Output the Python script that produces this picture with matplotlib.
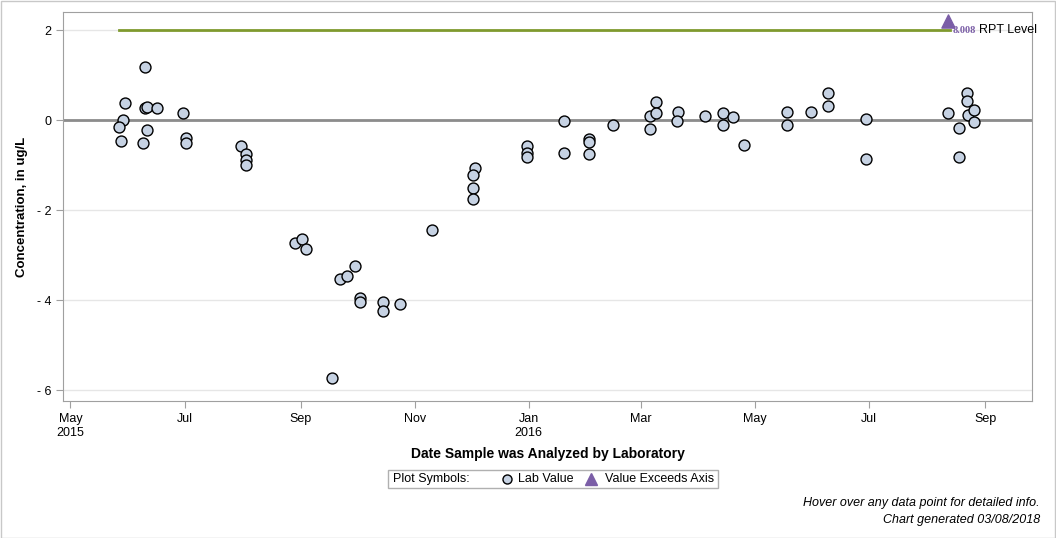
import numpy as np
import pandas as pd
import matplotlib
matplotlib.use('Agg')
import matplotlib.pyplot as plt
from matplotlib.lines import Line2D
from matplotlib.patches import Rectangle

plt.rcParams['font.family'] = ['Liberation Sans', 'DejaVu Sans']

# lab values
dates = ['2015-06-10', '2015-05-30', '2015-06-10', '2015-06-11', '2015-06-16',
         '2015-06-30', '2015-05-29', '2015-05-27', '2015-05-28', '2015-06-11',
         '2015-06-09', '2015-07-02', '2015-07-02', '2015-07-31', '2015-08-03',
         '2015-08-03', '2015-08-03',
         '2015-08-29', '2015-09-02', '2015-09-04', '2015-09-22', '2015-09-26',
         '2015-09-30', '2015-10-03', '2015-10-03', '2015-10-15', '2015-10-15',
         '2015-10-24', '2015-09-18',
         '2015-11-10', '2015-12-03', '2015-12-02', '2015-12-02', '2015-12-02',
         '2015-12-31', '2015-12-31', '2015-12-31', '2016-01-20', '2016-01-20',
         '2016-02-02', '2016-02-02', '2016-02-02', '2016-02-15',
         '2016-03-06', '2016-03-06', '2016-03-09', '2016-03-09', '2016-03-21',
         '2016-03-20', '2016-04-04', '2016-04-14', '2016-04-14', '2016-04-19',
         '2016-04-25',
         '2016-05-18', '2016-05-18', '2016-05-31', '2016-06-09', '2016-06-09',
         '2016-06-29', '2016-06-29',
         '2016-08-12', '2016-08-22', '2016-08-22', '2016-08-23', '2016-08-26',
         '2016-08-26', '2016-08-18', '2016-08-18']
values = [1.17, 0.37, 0.26, 0.28, 0.27,
          0.15, 0.0, -0.15, -0.47, -0.23,
          -0.52, -0.39, -0.50, -0.58, -0.76,
          -0.88, -1.0,
          -2.74, -2.64, -2.87, -3.52, -3.47,
          -3.24, -3.96, -4.05, -4.04, -4.24,
          -4.09, -5.74,
          -2.44, -1.07, -1.23, -1.52, -1.76,
          -0.58, -0.74, -0.81, -0.01, -0.74,
          -0.42, -0.48, -0.76, -0.12,
          0.09, -0.19, 0.39, 0.15, 0.17,
          -0.01, 0.09, 0.16, -0.11, 0.07,
          -0.56,
          0.17, -0.11, 0.17, 0.59, 0.31,
          0.02, -0.87,
          0.15, 0.59, 0.43, 0.11, 0.22,
          -0.05, -0.17, -0.82]

# value above the axis
exceed_date = '2016-08-12'
exceed_plot_y = 2.2
exceed_label = '8.008'

rpt_level = 2.0
rpt_start = '2015-05-27'
rpt_end = '2016-08-13'

tick_dates = ['2015-05-01', '2015-07-01', '2015-09-01', '2015-11-01', '2016-01-01',
              '2016-03-01', '2016-05-01', '2016-07-01', '2016-09-01']
tick_labels = ['May\n2015', 'Jul', 'Sep', 'Nov', 'Jan\n2016', 'Mar', 'May', 'Jul', 'Sep']

x = pd.to_datetime(dates)

fig = plt.figure(figsize=(10.56, 5.38), dpi=100)
ax = fig.add_axes([63/1056, 1 - 401/538, (1032-63)/1056, (401-12)/538])

ax.set_xlim(pd.Timestamp('2015-04-27'), pd.Timestamp('2016-09-26'))
ax.set_ylim(-6.24, 2.4)

ax.set_yticks([2, 0, -2, -4, -6])
ax.set_yticklabels(['2', '0', '- 2', '- 4', '- 6'])
ax.yaxis.grid(True, color='#e6e6e6', lw=1)
ax.set_axisbelow(True)

ax.set_xticks(pd.to_datetime(tick_dates))
ax.set_xticklabels(tick_labels, ha='center')
ax.tick_params(axis='both', colors='#a0a0a0', labelcolor='black', labelsize=9, length=5)

for s in ax.spines.values():
    s.set_color('#a0a0a0')

ax.axhline(0, color='#8c8c8c', lw=2, zorder=1)
ax.plot(pd.to_datetime([rpt_start, rpt_end]), [rpt_level, rpt_level],
        color='#7f9a2e', lw=2, zorder=2)

ax.scatter(x, values, s=62, facecolor='#c6d2e3', edgecolor='black', linewidth=1, zorder=3)
ax.scatter(pd.to_datetime([exceed_date]), [exceed_plot_y], marker='^', s=90,
           color='#7b5ea7', zorder=3)

ax.text(pd.Timestamp(rpt_end) + pd.Timedelta(days=1.5), rpt_level, exceed_label,
        color='#7b5ea7', fontsize=7.5, fontweight='bold', family='Liberation Serif',
        va='center', ha='left', zorder=4)
ax.text(pd.Timestamp(rpt_end) + pd.Timedelta(days=15.5), rpt_level, 'RPT Level',
        color='black', fontsize=9, va='center', ha='left', zorder=4)

ax.set_ylabel('Concentration, in ug/L', fontsize=9.5, fontweight='bold', labelpad=6)
ax.set_xlabel('Date Sample was Analyzed by Laboratory', fontsize=10, fontweight='bold', labelpad=6)

# legend box
W, H = 1056, 538
fig.add_artist(Rectangle((388/W, 1 - 488/H), 330/W, 18/H, transform=fig.transFigure,
                         facecolor='white', edgecolor='#b0b0b0', lw=1))
ly = 1 - 479/H
fig.text(393/W, ly, 'Plot Symbols:', fontsize=9, va='center', ha='left')
fig.add_artist(Line2D([507/W], [ly], transform=fig.transFigure, marker='o', markersize=6.5,
                      markerfacecolor='#c6d2e3', markeredgecolor='black', markeredgewidth=1, ls='none'))
fig.text(518/W, ly, 'Lab Value', fontsize=9, va='center', ha='left')
fig.add_artist(Line2D([591/W], [ly], transform=fig.transFigure, marker='^', markersize=8,
                      color='#7b5ea7', ls='none'))
fig.text(605/W, ly, 'Value Exceeds Axis', fontsize=9, va='center', ha='left')

fig.text(1040/W, 1 - 503/H, 'Hover over any data point for detailed info.', fontsize=9,
         style='italic', ha='right', va='center')
fig.text(1040/W, 1 - 520/H, 'Chart generated 03/08/2018', fontsize=9,
         style='italic', ha='right', va='center')

fig.add_artist(Rectangle((0.5/W, 0.5/H), 1 - 1.5/W, 1 - 1.5/H, transform=fig.transFigure,
                         facecolor='none', edgecolor='#c8c8c8', lw=1))

fig.savefig('out.png', dpi=100)
